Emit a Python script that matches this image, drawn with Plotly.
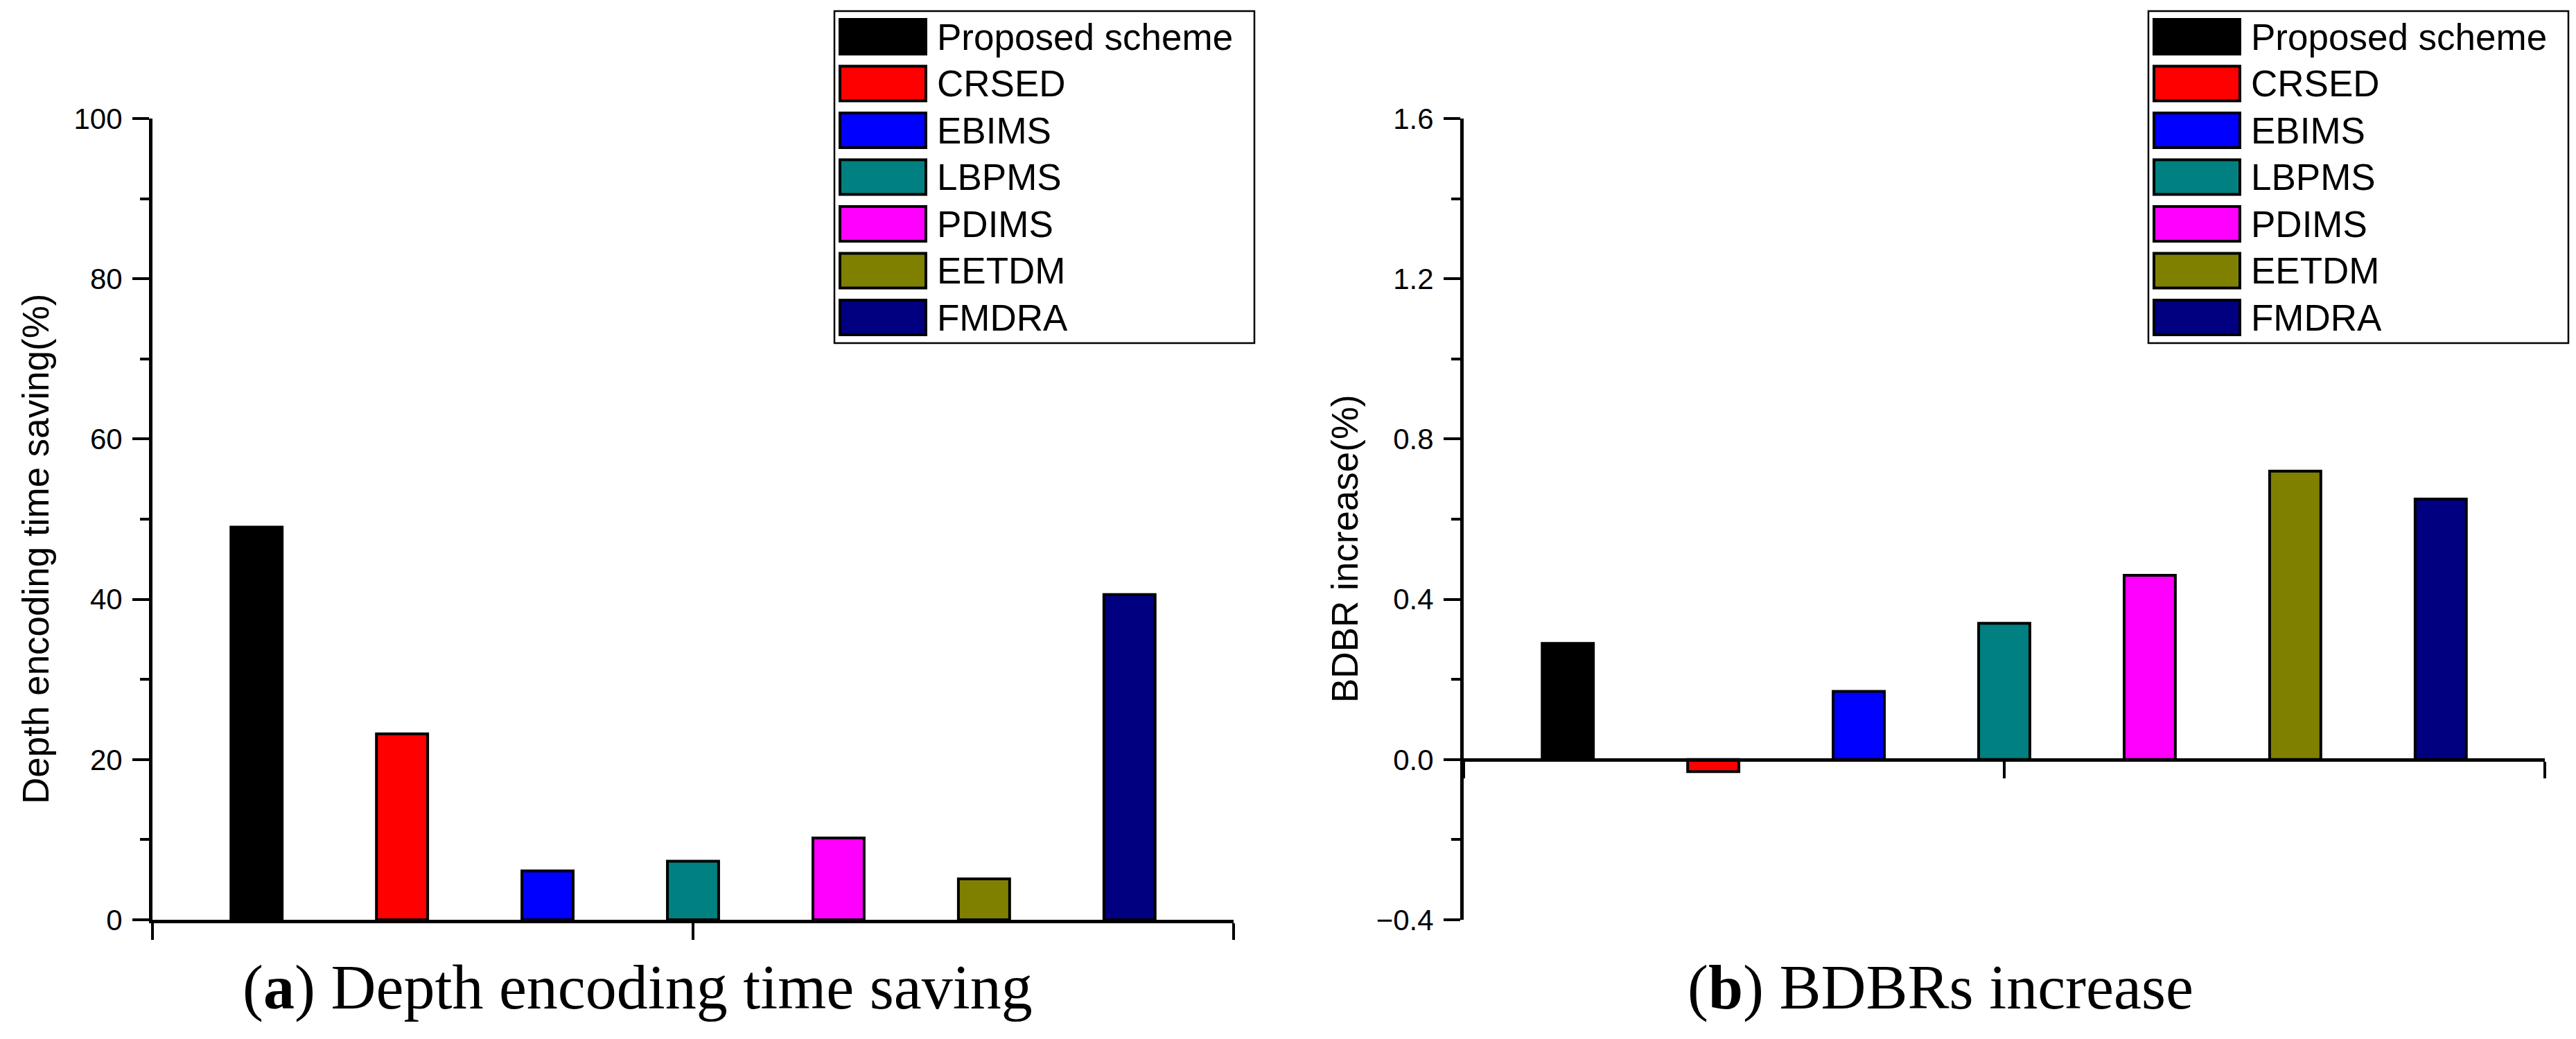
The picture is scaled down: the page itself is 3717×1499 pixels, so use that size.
import plotly.graph_objects as go

W, H = 3717, 1499

# ---- data ----
methods = ["Proposed scheme", "CRSED", "EBIMS", "LBPMS", "PDIMS", "EETDM", "FMDRA"]
colors = ["#000000", "#FF0000", "#0000FF", "#008080", "#FF00FF", "#808000", "#000080"]
time_saving = [49.0, 23.2, 6.1, 7.3, 10.2, 5.1, 40.6]
bdbr_increase = [0.29, -0.03, 0.17, 0.34, 0.46, 0.72, 0.65]
y1_ticks = [0, 20, 40, 60, 80, 100]
y2_ticks = [-0.4, 0.0, 0.4, 0.8, 1.2, 1.6]

SANS = "Liberation Sans, Arial, sans-serif"
SERIF = "Liberation Serif, Times New Roman, serif"


def px_x(p):
    return p / W


def px_y(p):
    return 1 - p / H


# panel geometry (pixels)
L_X0, L_X1 = 220, 1780
R_X0, R_X1 = 2112, 3672
Y_TOP, Y_BOT = 171, 1327

ydom = [px_y(Y_BOT), px_y(Y_TOP)]

fig = go.Figure()
for name, col, v1, v2 in zip(methods, colors, time_saving, bdbr_increase):
    fig.add_trace(go.Bar(x=[0], y=[v1], name=name, marker=dict(color=col, line=dict(color="black", width=4)),
                         xaxis="x", yaxis="y", showlegend=False))
    fig.add_trace(go.Bar(x=[0], y=[v2], name=name, marker=dict(color=col, line=dict(color="black", width=4)),
                         xaxis="x2", yaxis="y2", showlegend=False))

axis_common = dict(showline=True, linecolor="black", linewidth=5, showgrid=False, zeroline=False,
                   ticks="outside", tickcolor="black", tickwidth=4, ticklen=24, automargin=False)

xcommon = dict(axis_common, range=[-0.5, 0.5], tickvals=[-0.5, 0, 0.5], showticklabels=False)

y2_pos = ydom[0] + (0 - y2_ticks[0]) / (y2_ticks[-1] - y2_ticks[0]) * (ydom[1] - ydom[0])

fig.update_layout(
    width=W, height=H,
    margin=dict(l=0, r=0, t=0, b=0, pad=0, autoexpand=False),
    paper_bgcolor="white", plot_bgcolor="white",
    barmode="group", bargap=0.058, bargroupgap=0.648,
    font=dict(family=SANS, color="black"),
    xaxis=dict(xcommon, domain=[px_x(L_X0), px_x(L_X1)], anchor="y"),
    yaxis=dict(axis_common, domain=ydom, anchor="x", range=[0, 100], tickvals=y1_ticks,
               tickfont=dict(size=42, family=SANS), ticklabelstandoff=6,
               minor=dict(dtick=10, ticks="outside", ticklen=13, tickwidth=4, tickcolor="black")),
    xaxis2=dict(xcommon, domain=[px_x(R_X0), px_x(R_X1)], anchor="free", position=y2_pos),
    yaxis2=dict(axis_common, domain=ydom, anchor="x2", range=[y2_ticks[0], y2_ticks[-1]], tickvals=y2_ticks,
                tickformat=".1f", tickfont=dict(size=42, family=SANS), ticklabelstandoff=6,
                minor=dict(dtick=0.2, ticks="outside", ticklen=13, tickwidth=4, tickcolor="black")),
)

shapes = []
annotations = []

# custom legends (large swatches like the original)
for dx in (0, 1896):
    bx0, bx1, by0, by1 = 1204 + dx, 1810 + dx, 16, 495
    shapes.append(dict(type="rect", xref="paper", yref="paper", x0=px_x(bx0), x1=px_x(bx1),
                       y0=px_y(by1), y1=px_y(by0), line=dict(color="black", width=2.5), fillcolor="white",
                       layer="above"))
    for i, (name, col) in enumerate(zip(methods, colors)):
        cy = 53 + 67.5 * i
        shapes.append(dict(type="rect", xref="paper", yref="paper", x0=px_x(1212 + dx), x1=px_x(1336 + dx),
                           y0=px_y(cy + 25), y1=px_y(cy - 25), line=dict(color="black", width=4),
                           fillcolor=col, layer="above"))
        annotations.append(dict(xref="paper", yref="paper", x=px_x(1350 + dx), y=px_y(cy), text=name,
                                showarrow=False, xanchor="left", yanchor="middle",
                                font=dict(family=SANS, size=53, color="black")))

# axis titles
annotations.append(dict(xref="paper", yref="paper", x=px_x(51), y=px_y(792), text="Depth encoding time saving(%)",
                        textangle=-90, showarrow=False, xanchor="center", yanchor="middle",
                        font=dict(family=SANS, size=53, color="black")))
annotations.append(dict(xref="paper", yref="paper", x=px_x(1940), y=px_y(792), text="BDBR increase(%)",
                        textangle=-90, showarrow=False, xanchor="center", yanchor="middle",
                        font=dict(family=SANS, size=53, color="black")))

# panel captions
annotations.append(dict(xref="paper", yref="paper", x=px_x(920), y=px_y(1425),
                        text="(<b>a</b>) Depth encoding time saving", showarrow=False,
                        xanchor="center", yanchor="middle", font=dict(family=SERIF, size=90, color="black")))
annotations.append(dict(xref="paper", yref="paper", x=px_x(2800), y=px_y(1425),
                        text="(<b>b</b>) BDBRs increase", showarrow=False,
                        xanchor="center", yanchor="middle", font=dict(family=SERIF, size=90, color="black")))

fig.update_layout(shapes=shapes, annotations=annotations)
fig.write_html("out.html", config={"displayModeBar": False},
               post_script="document.body.style.margin='0';")
